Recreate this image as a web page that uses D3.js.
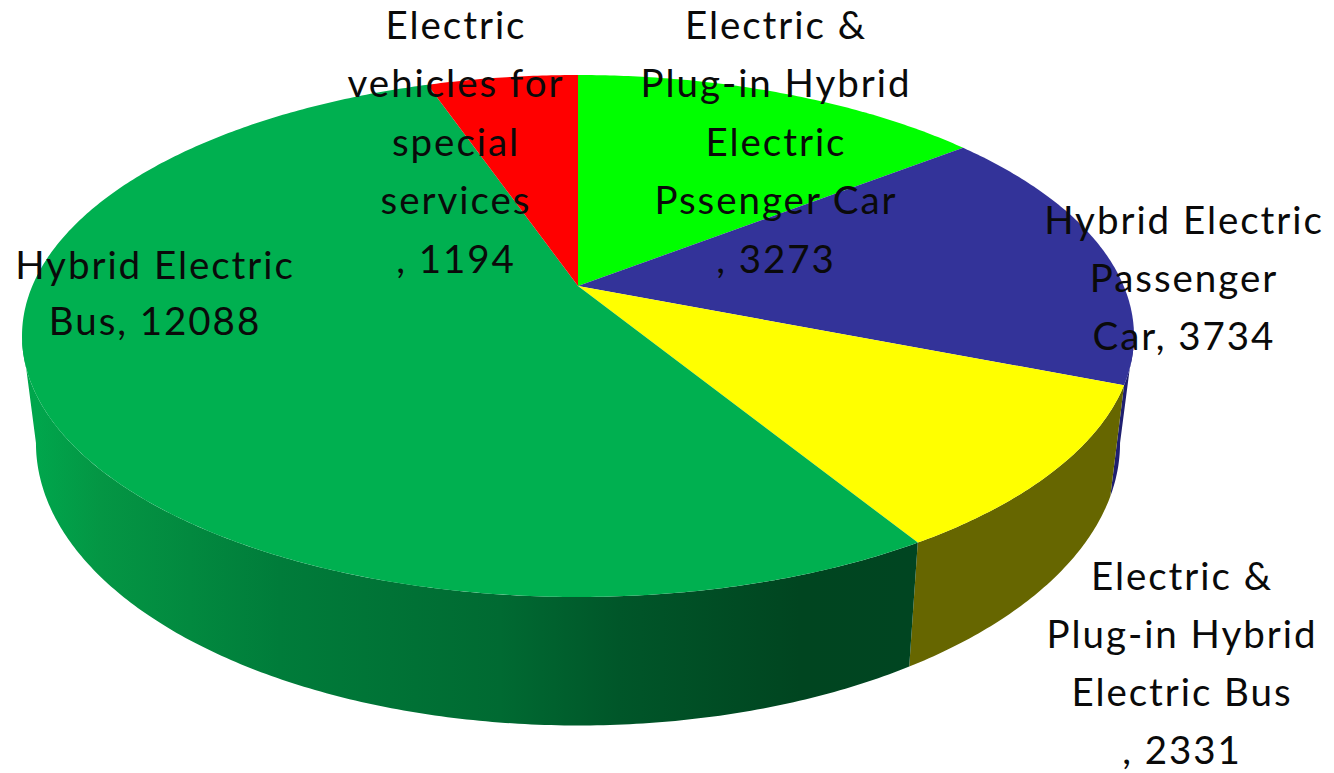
<!DOCTYPE html>
<html>
<head>
<meta charset="utf-8">
<script src="https://cdn.jsdelivr.net/npm/d3@7"></script>
<style>
  html, body { margin: 0; background: #fff; }
  svg { display: block; }
  text { font-family: Lato, "Open Sans", sans-serif; font-size: 38.5px; letter-spacing: 1.95px; fill: #0a0a0a; text-anchor: middle; }
</style>
</head>
<body>
<svg id="chart" width="1334" height="773"></svg>
<script>
// Vehicle counts per category, clockwise from twelve o'clock.
const categories = [
  "Electric & Plug-in Hybrid Electric Pssenger Car",
  "Hybrid Electric Passenger Car",
  "Electric & Plug-in Hybrid Electric Bus",
  "Hybrid Electric Bus",
  "Electric vehicles for special services"
];
const values = [3273, 3734, 2331, 12088, 1194];
const topColors = ["#00ff00", "#333399", "#ffff00", "#00b050", "#ff0000"];
const wallColors = ["#009900", "#1f1f70", "#666600", "url(#busWall)", "#990000"];

// How each category name wraps; the value is appended to the last line.
const labelLines = [
  ["Electric &", "Plug-in Hybrid", "Electric", "Pssenger Car", ", "],
  ["Hybrid Electric", "Passenger", "Car, "],
  ["Electric &", "Plug-in Hybrid", "Electric Bus", ", "],
  ["Hybrid Electric", "Bus, "],
  ["Electric", "vehicles for", "special", "services", ", "]
];
const labelCentreX = [776, 1184, 1182, 155, 456];
const labelFirstBaseline = [39, 234, 590, 279, 39];
const labelLeading = [58.4, 58, 58, 56, 58.4];

const svg = d3.select("#chart");

// Perspective of the disc: a unit circle seen through a projective map.
const tilt = 0.1916;
const hubX = 578;
const topDisc = { r: 545.7, hubY: 286, b: 251.4 };
const baseDisc = { r: 532, hubY: 389, b: 272 };

function project(disc, angle) {
  const u = Math.sin(angle), v = -Math.cos(angle), w = 1 - tilt * v;
  return [hubX + disc.r * u / w, disc.hubY + disc.b * v / w];
}
function arcPoints(disc, a0, a1) {
  const n = Math.max(2, Math.ceil(Math.abs(a1 - a0) / 0.01));
  return d3.range(n + 1).map(i => project(disc, a0 + (a1 - a0) * i / n));
}
const line = d3.line();

const pie = d3.pie().sort(null).startAngle(0).endAngle(2 * Math.PI);
const slices = pie(values);

// Shading along the wall of the largest slice, dark towards the right.
const defs = svg.append("defs");
const wallShade = [
  [36, "#00a64c"], [100, "#049644"], [280, "#007c3a"],
  [500, "#006a32"], [620, "#005629"], [800, "#004520"], [917, "#004521"]
];
const wallX = d3.scaleLinear().domain([36, 917]).range([0, 1]);
defs.append("linearGradient")
  .attr("id", "busWall").attr("gradientUnits", "userSpaceOnUse")
  .attr("x1", 36).attr("x2", 917).attr("y1", 0).attr("y2", 0)
  .selectAll("stop").data(wallShade).join("stop")
  .attr("offset", d => wallX(d[0]))
  .attr("stop-color", d => d[1]);

// The side wall is visible between the two silhouette tangents.
const rightEdge = Math.PI - Math.acos(tilt);
const leftEdge = Math.PI + Math.acos(tilt);

svg.append("g").selectAll("path")
  .data(slices.filter(d => d.endAngle > rightEdge && d.startAngle < leftEdge))
  .join("path")
  .attr("fill", d => wallColors[d.index])
  .attr("d", d => {
    const a0 = Math.max(d.startAngle, rightEdge);
    const a1 = Math.min(d.endAngle, leftEdge);
    return line(arcPoints(topDisc, a0, a1).concat(arcPoints(baseDisc, a1, a0))) + "Z";
  });

svg.append("g").selectAll("path")
  .data(slices)
  .join("path")
  .attr("fill", d => topColors[d.index])
  .attr("d", d => line([[hubX, topDisc.hubY]].concat(arcPoints(topDisc, d.startAngle, d.endAngle))) + "Z");

// Labels sit above every slice.
const labels = svg.append("g").selectAll("text")
  .data(slices)
  .join("text")
  .attr("aria-label", d => categories[d.index])
  .attr("x", d => labelCentreX[d.index])
  .attr("y", d => labelFirstBaseline[d.index]);

labels.selectAll("tspan")
  .data(d => labelLines[d.index].map((t, i, all) => ({
    text: i === all.length - 1 ? t + d.value : t,
    x: labelCentreX[d.index],
    dy: i === 0 ? 0 : labelLeading[d.index]
  })))
  .join("tspan")
  .attr("x", d => d.x)
  .attr("dy", d => d.dy)
  .text(d => d.text);
</script>
</body>
</html>
